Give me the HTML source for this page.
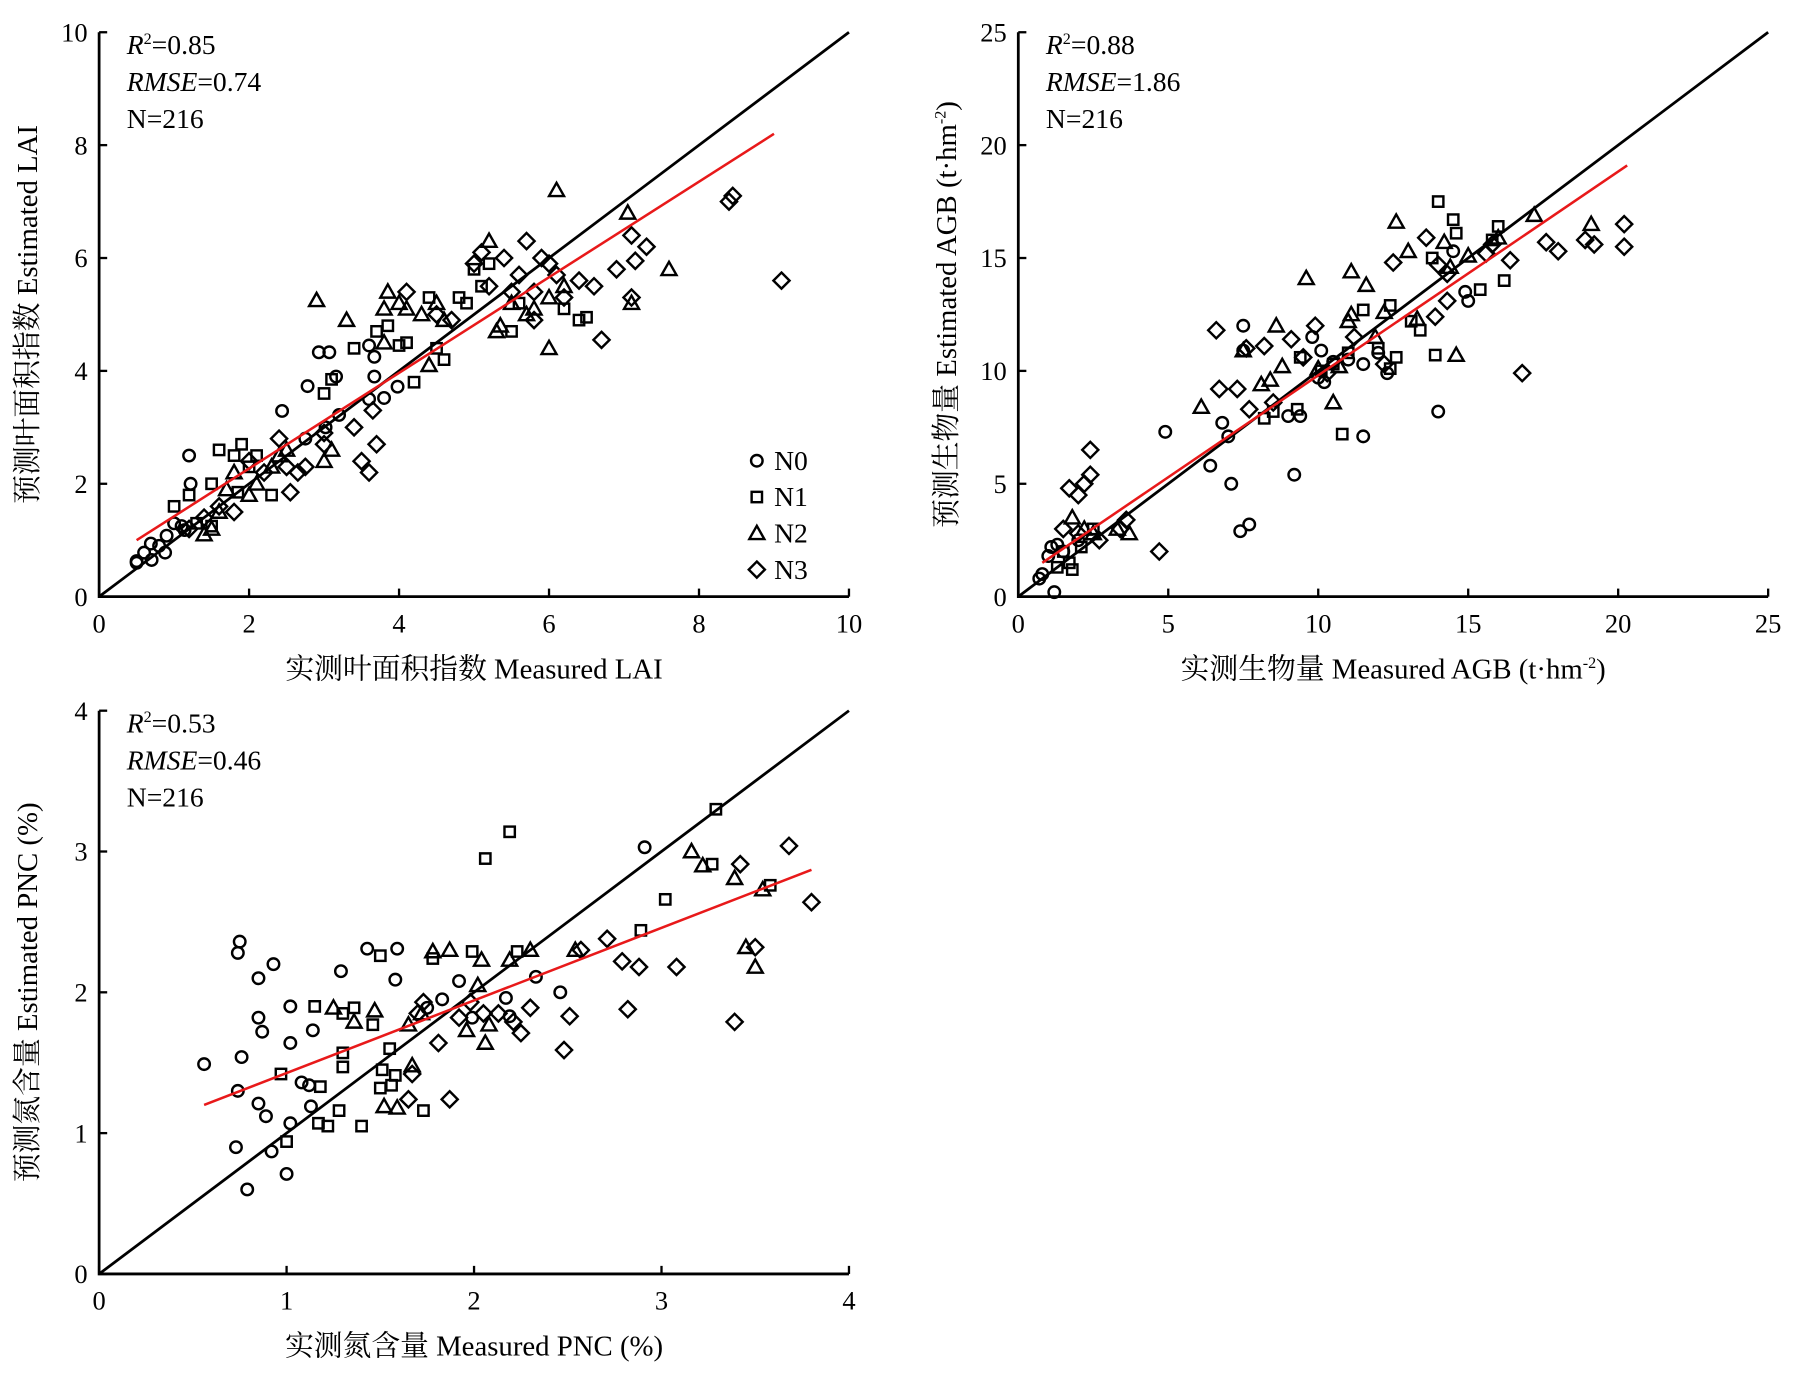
<!DOCTYPE html>
<html><head><meta charset="utf-8"><style>
html,body{margin:0;padding:0;background:#fff;}
svg{display:block;}
svg text{font-family:"Liberation Serif","Noto Serif CJK SC",serif;fill:#000;}
</style></head><body>
<svg id="fig" width="1797" height="1373" viewBox="0 0 1560 1192" xmlns="http://www.w3.org/2000/svg" font-family="Liberation Serif, Noto Serif CJK SC, serif"></svg>
<script>
// ---- Chart 1: LAI ----
const laiTicks = [0,2,4,6,8,10];
const laiN0 = [[0.5,0.63],[0.6,0.78],[0.69,0.94],[0.8,0.9],[0.88,0.78],[0.9,1.08],[1.14,1.18],[1.2,2.5],[1.22,2.0],[2.44,3.29],[2.78,3.73],[2.93,4.33],[3.07,4.33],[3.16,3.9],[2.75,2.8],[3.02,3.0],[3.2,3.22],[3.6,3.5],[3.67,3.9],[3.67,4.25],[3.8,3.52],[3.98,3.72],[3.6,4.45],[0.5,0.6],[0.7,0.65],[1.0,1.3],[1.1,1.25]];
const laiN1 = [[1.0,1.6],[1.2,1.8],[1.3,1.3],[1.5,2.0],[1.6,2.6],[1.8,2.5],[1.9,2.7],[2.0,2.3],[2.1,2.5],[2.3,1.8],[1.85,1.85],[1.5,1.25],[3.0,3.6],[3.1,3.85],[3.4,4.4],[3.7,4.7],[3.85,4.8],[4.0,4.45],[4.1,4.5],[4.2,3.8],[4.6,4.2],[4.4,5.3],[4.5,4.4],[4.8,5.3],[4.9,5.2],[5.0,5.8],[5.2,5.9],[5.5,4.7],[5.6,5.2],[6.4,4.9],[6.5,4.95],[6.2,5.1],[5.1,5.5]];
const laiN2 = [[1.4,1.1],[1.5,1.2],[1.6,1.5],[1.7,1.9],[1.8,2.2],[2.0,1.8],[2.1,2.0],[2.3,2.3],[2.4,2.5],[2.5,2.6],[3.0,2.4],[3.1,2.6],[2.9,5.25],[3.3,4.9],[3.8,4.5],[3.8,5.1],[3.85,5.4],[4.0,5.2],[4.1,5.1],[4.3,5.0],[4.5,5.2],[4.4,4.1],[4.6,4.9],[5.2,6.3],[5.3,4.7],[5.35,4.8],[5.5,5.2],[5.8,5.1],[6.0,4.4],[6.0,5.3],[6.1,7.2],[7.05,6.8],[7.1,5.2],[7.6,5.8],[5.7,5.0],[6.2,5.5]];
const laiN3 = [[1.2,1.2],[1.4,1.4],[1.6,1.6],[1.8,1.5],[2.0,2.4],[2.2,2.2],[2.4,2.8],[2.5,2.3],[2.55,1.85],[2.65,2.2],[2.75,2.3],[3.0,2.9],[3.0,2.7],[3.4,3.0],[3.5,2.4],[3.6,2.2],[3.65,3.3],[3.7,2.7],[4.1,5.4],[4.5,5.0],[4.7,4.9],[5.0,5.9],[5.1,6.1],[5.2,5.5],[5.4,6.0],[5.5,5.4],[5.6,5.7],[5.7,6.3],[5.8,5.4],[5.9,6.0],[6.0,5.9],[6.1,5.7],[6.2,5.3],[5.8,4.9],[6.4,5.6],[6.6,5.5],[6.9,5.8],[6.7,4.55],[7.1,6.4],[7.15,5.95],[7.3,6.2],[7.1,5.3],[8.4,7.0],[8.45,7.1],[9.1,5.6]];
const laiFit = [[0.5,1.0],[9.0,8.2]];
const laiStats = ["0.85","0.74","216"];
// ---- Chart 2: AGB ----
const agbTicks = [0,5,10,15,20,25];
const agbN0 = [[1.2,0.2],[1.0,1.8],[1.3,2.3],[1.5,2.0],[2.0,2.5],[4.9,7.3],[6.4,5.8],[6.8,7.7],[7.0,7.1],[7.1,5.0],[7.4,2.9],[7.7,3.2],[7.5,12.0],[7.5,10.9],[9.2,5.4],[9.0,8.0],[9.4,8.0],[10.0,9.7],[10.2,9.5],[10.5,10.4],[11.0,10.5],[11.5,7.1],[11.5,10.3],[12.0,10.8],[12.3,9.9],[14.0,8.2],[14.5,15.3],[14.9,13.5],[15.0,13.1],[9.8,11.5],[10.1,10.9],[0.7,0.8],[0.8,1.0],[1.1,2.2]];
const agbN1 = [[1.3,1.3],[1.5,2.0],[1.7,1.5],[1.8,1.2],[2.1,2.2],[2.5,3.0],[8.2,7.9],[8.5,8.2],[9.3,8.3],[10.1,10.0],[10.5,10.3],[10.8,7.2],[11.0,10.8],[11.5,12.7],[12.0,11.0],[12.4,10.1],[12.4,12.9],[13.1,12.2],[13.4,11.8],[13.8,15.0],[13.9,10.7],[14.0,17.5],[14.5,16.7],[14.6,16.1],[15.4,13.6],[15.8,15.8],[16.0,16.4],[16.2,14.0],[12.6,10.6],[9.4,10.6]];
const agbN2 = [[1.8,3.5],[2.2,3.0],[2.5,2.8],[3.3,3.0],[3.7,2.8],[6.1,8.4],[7.5,10.9],[8.1,9.4],[8.4,9.6],[8.6,12.0],[8.8,10.2],[9.6,14.1],[10.0,10.1],[10.5,8.6],[10.7,10.2],[11.0,12.2],[11.1,12.5],[11.1,14.4],[11.6,13.8],[11.9,11.5],[12.2,12.6],[12.6,16.6],[13.0,15.3],[13.3,12.3],[14.4,14.6],[14.6,10.7],[15.0,15.1],[16.0,15.9],[17.2,16.9],[19.1,16.5],[14.2,15.7]];
const agbN3 = [[1.5,3.0],[1.7,4.8],[2.0,4.5],[2.2,5.0],[2.4,5.4],[2.4,6.5],[2.0,2.8],[2.7,2.5],[3.4,3.0],[3.6,3.4],[4.7,2.0],[6.6,11.8],[6.7,9.2],[7.3,9.2],[7.6,11.0],[7.7,8.3],[8.2,11.1],[8.5,8.6],[9.1,11.4],[9.5,10.6],[9.9,12.0],[10.3,9.9],[11.2,11.5],[12.2,10.3],[12.5,14.8],[13.6,15.9],[13.9,12.4],[14.0,14.7],[14.3,14.3],[14.3,13.1],[15.6,15.2],[15.8,15.6],[16.4,14.9],[16.8,9.9],[17.6,15.7],[18.0,15.3],[18.9,15.8],[19.2,15.6],[20.2,16.5],[20.2,15.5]];
const agbFit = [[0.8,1.5],[20.3,19.1]];
const agbStats = ["0.88","1.86","216"];
// ---- Chart 3: PNC ----
const pncTicks = [0,1,2,3,4];
const pncN0 = [[0.56,1.49],[0.74,2.28],[0.75,2.36],[0.76,1.54],[0.74,1.3],[0.73,0.9],[0.79,0.6],[0.85,1.82],[0.85,2.1],[0.87,1.72],[0.93,2.2],[0.85,1.21],[0.89,1.12],[0.92,0.87],[1.0,0.71],[1.02,1.64],[1.02,1.9],[1.02,1.07],[1.08,1.36],[1.12,1.34],[1.13,1.19],[1.14,1.73],[1.29,2.15],[1.43,2.31],[1.59,2.31],[1.58,2.09],[1.75,1.89],[1.83,1.95],[1.92,2.08],[2.17,1.96],[2.33,2.11],[2.46,2.0],[2.91,3.03],[2.19,1.83],[1.99,1.82]];
const pncN1 = [[0.97,1.42],[1.0,0.94],[1.15,1.9],[1.18,1.33],[1.17,1.07],[1.22,1.05],[1.28,1.16],[1.3,1.57],[1.3,1.47],[1.4,1.05],[1.46,1.77],[1.5,1.32],[1.51,1.45],[1.55,1.6],[1.56,1.34],[1.58,1.41],[1.5,2.26],[1.73,1.16],[1.78,2.24],[1.99,2.29],[2.06,2.95],[2.19,3.14],[2.23,2.29],[2.89,2.44],[3.02,2.66],[3.27,2.91],[3.29,3.3],[3.58,2.76],[1.3,1.85],[1.36,1.89]];
const pncN2 = [[1.25,1.89],[1.36,1.79],[1.47,1.87],[1.52,1.19],[1.59,1.18],[1.67,1.48],[1.72,1.85],[1.78,2.29],[1.87,2.3],[1.96,1.73],[2.02,2.05],[2.04,2.23],[2.06,1.64],[2.19,2.23],[2.3,2.3],[2.54,2.3],[3.16,3.0],[3.22,2.9],[3.39,2.81],[3.45,2.32],[3.5,2.18],[3.54,2.73],[2.08,1.77],[1.65,1.77]];
const pncN3 = [[1.65,1.24],[1.67,1.42],[1.81,1.64],[1.87,1.24],[1.92,1.82],[1.98,1.93],[2.05,1.85],[2.13,1.85],[2.21,1.79],[2.25,1.71],[2.3,1.89],[2.48,1.59],[2.51,1.83],[2.57,2.3],[2.71,2.38],[2.79,2.22],[2.82,1.88],[2.88,2.18],[3.08,2.18],[3.39,1.79],[3.42,2.91],[3.5,2.32],[3.68,3.04],[3.8,2.64],[1.7,1.85],[1.73,1.93]];
const pncFit = [[0.56,1.2],[3.8,2.87]];
const pncStats = ["0.53","0.46","216"];

const NS="http://www.w3.org/2000/svg";
const svg=document.getElementById('fig');
function mk(tag,attrs,parent){const e=document.createElementNS(NS,tag);for(const k in attrs)e.setAttribute(k,attrs[k]);(parent||svg).appendChild(e);return e;}

function marker(g,shape,cx,cy){
  let e;
  if(shape==='circle'){e=mk('circle',{cx:cx,cy:cy,r:5,fill:'none',stroke:'#000','stroke-width':2.1},g);}
  else if(shape==='square'){e=mk('rect',{x:cx-4.5,y:cy-4.5,width:9,height:9,fill:'none',stroke:'#000','stroke-width':2.1},g);}
  else if(shape==='triangle'){e=mk('polygon',{points:`${cx},${cy-6.5} ${cx-6.5},${cy+5} ${cx+6.5},${cy+5}`,fill:'none',stroke:'#000','stroke-width':2.1},g);}
  else {e=mk('polygon',{points:`${cx},${cy-7} ${cx+7},${cy} ${cx},${cy+7} ${cx-7},${cy}`,fill:'none',stroke:'#000','stroke-width':2.1},g);}
  return e;
}

function chart(cfg){
  const g=mk('g',{});
  
  
  const {ox,oy,w,h,max}=cfg;
  const X=v=>ox+v/max*w, Y=v=>oy-v/max*h;
  const l11=mk('line',{x1:X(0),y1:Y(0),x2:X(max),y2:Y(max),stroke:'#000','stroke-width':2.4},g);
  
  
  const ax=mk('path',{d:`M${ox},${oy-h} L${ox},${oy} L${ox+w},${oy}`,fill:'none',stroke:'#000','stroke-width':2.4},g);
  
  
  cfg.ticks.forEach(t=>{
    mk('line',{x1:X(t),y1:oy,x2:X(t),y2:oy-7,stroke:'#000','stroke-width':2},g);
    mk('line',{x1:ox,y1:Y(t),x2:ox+7,y2:Y(t),stroke:'#000','stroke-width':2},g);
    const xt=mk('text',{x:X(t),y:oy+31,'text-anchor':'middle','font-size':23},g);xt.textContent=t;
    
    
    const yt=mk('text',{x:ox-10,y:Y(t)+8,'text-anchor':'end','font-size':23},g);yt.textContent=t;
    
    
  });
  [['circle',cfg.n0],['square',cfg.n1],['triangle',cfg.n2],['diamond',cfg.n3]].forEach(([s,arr])=>{
    arr.forEach(p=>{const m=marker(g,s,X(p[0]),Y(p[1]));
      
      });
  });
  const fl=mk('line',{x1:X(cfg.fit[0][0]),y1:Y(cfg.fit[0][1]),x2:X(cfg.fit[1][0]),y2:Y(cfg.fit[1][1]),stroke:'#e8191a','stroke-width':2.2},g);
  
  
  const s1=mk('text',{x:ox+24,y:oy-h+19,'font-size':24},g);
  s1.innerHTML=`<tspan font-style="italic">R</tspan><tspan font-size="14" dy="-9">2</tspan><tspan dy="9">=${cfg.stats[0]}</tspan>`;
  
  
  const s2=mk('text',{x:ox+24,y:oy-h+51,'font-size':24},g);
  s2.innerHTML=`<tspan font-style="italic">RMSE</tspan>=${cfg.stats[1]}`;
  
  
  const s3=mk('text',{x:ox+24,y:oy-h+83,'font-size':24},g);
  s3.textContent='N='+cfg.stats[2];
  
  
  const xt=mk('text',{x:ox+w/2,y:oy+71,'text-anchor':'middle','font-size':25},g);
  xt.innerHTML=cfg.xTitle;
  
  
  const yt=mk('text',{x:0,y:0,'text-anchor':'middle','font-size':25,transform:`translate(${ox-54},${oy-h/2}) rotate(-90)`},g);
  yt.innerHTML=cfg.yTitle;
  
  
  return g;
}

chart({name:'lai-chart',ox:86,oy:518,w:651,h:490,max:10,ticks:laiTicks,n0:laiN0,n1:laiN1,n2:laiN2,n3:laiN3,fit:laiFit,stats:laiStats,
  xTitle:'实测叶面积指数 Measured LAI',yTitle:'预测叶面积指数 Estimated LAI'});
chart({name:'agb-chart',ox:884,oy:518,w:651,h:490,max:25,ticks:agbTicks,n0:agbN0,n1:agbN1,n2:agbN2,n3:agbN3,fit:agbFit,stats:agbStats,
  xTitle:'实测生物量 Measured AGB (t·hm<tspan font-size="14" dy="-9">-2</tspan><tspan dy="9">)</tspan>',
  yTitle:'预测生物量 Estimated AGB (t·hm<tspan font-size="14" dy="-9">-2</tspan><tspan dy="9">)</tspan>'});
chart({name:'pnc-chart',ox:86,oy:1106,w:651,h:489,max:4,ticks:pncTicks,n0:pncN0,n1:pncN1,n2:pncN2,n3:pncN3,fit:pncFit,stats:pncStats,
  xTitle:'实测氮含量 Measured PNC (%)',yTitle:'预测氮含量 Estimated PNC (%)'});

const lg=mk('g',{});


const legendLabels=['N0','N1','N2','N3'];
const legendShapes=['circle','square','triangle','diamond'];
legendLabels.forEach((lab,i)=>{
  const y=400+i*31.5;
  const m=marker(lg,legendShapes[i],657,y);
  
  
  const t=mk('text',{x:672,y:y+8,'font-size':24},lg);t.textContent=lab;
  
  
});
</script>
</body></html>
